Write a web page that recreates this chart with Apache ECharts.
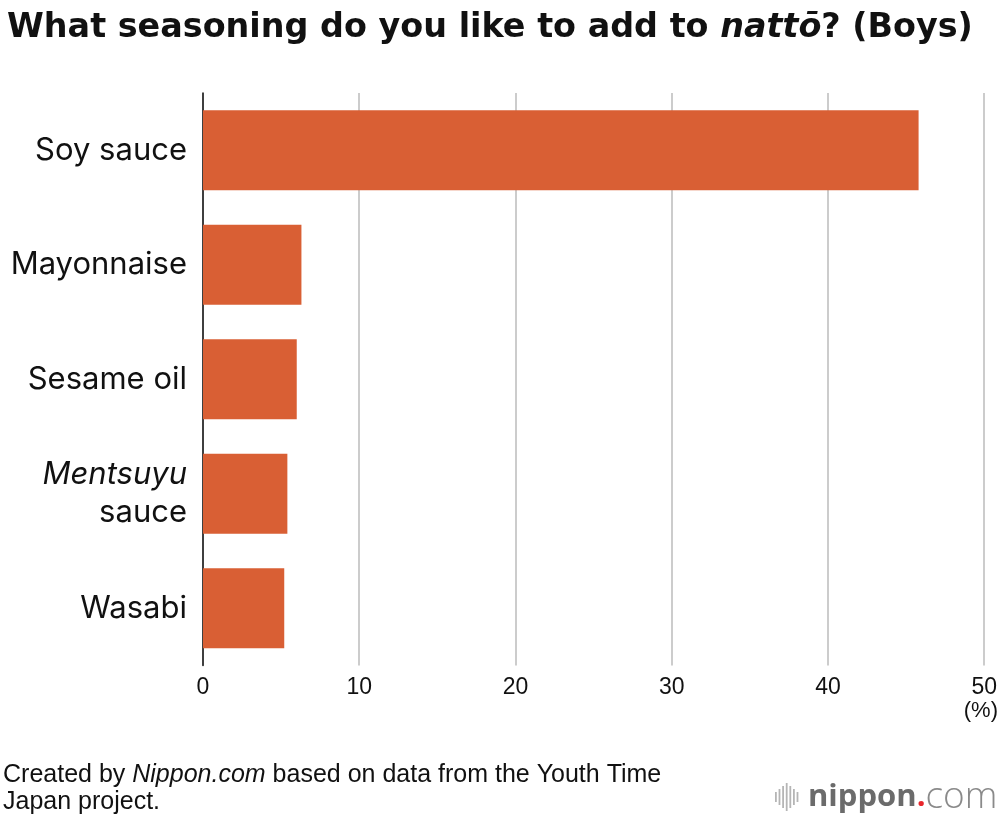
<!DOCTYPE html>
<html>
<head>
<meta charset="utf-8">
<script src="https://cdn.jsdelivr.net/npm/echarts@6/dist/echarts.min.js"></script>
<style>
html,body{margin:0;padding:0;background:#fff;}
#chart{width:1000px;height:820px;}
</style>
</head>
<body>
<div id="chart"></div>
<script>
const categories = ['Soy sauce', 'Mayonnaise', 'Sesame oil', 'Mentsuyu\nsauce', 'Wasabi'];
const values = [45.8, 6.3, 6.0, 5.4, 5.2];
const tickMin = 0, tickMax = 50, tickStep = 10;
const unitLabel = '(%)';
const titleText = 'What seasoning do you like to add to {i|nattō}? (Boys)';
const sourceLines = ['Created by {i|Nippon.com} based on data from the Youth Time', 'Japan project.'];

const chart = echarts.init(document.getElementById('chart'));
const sans = "'Liberation Sans', Arial, Helvetica, sans-serif";
const inter = "Inter, 'Liberation Sans', Arial, sans-serif";
const wide = "'DejaVu Sans', 'Liberation Sans', Arial, sans-serif";
const logoFont = "'Open Sans', sans-serif";

const logoBars = [10, 16, 22, 28, 22, 16, 10];
const logoGraphics = logoBars.map((h, i) => ({
  type: 'rect',
  shape: { x: 775 + i * 3.6, y: 797 - h / 2, width: 1.8, height: h },
  style: { fill: '#b5b5b5' }
}));

chart.setOption({
  animation: false,
  backgroundColor: '#ffffff',
  title: {
    text: titleText,
    left: 2,
    top: 7,
    textStyle: {
      fontFamily: wide,
      fontWeight: 'bold',
      fontSize: 33.4,
      color: '#111',
      rich: { i: { fontFamily: wide, fontWeight: 'bold', fontStyle: 'italic', fontSize: 33.4, color: '#111' } }
    }
  },
  grid: { left: 203, right: 15, top: 93, bottom: 154.5, containLabel: false },
  xAxis: {
    type: 'value',
    min: tickMin,
    max: tickMax,
    interval: tickStep,
    position: 'bottom',
    axisLine: { show: false },
    axisTick: { show: false },
    splitLine: { show: true, lineStyle: { color: '#cccccc', width: 2 } },
    axisLabel: {
      margin: 11,
      fontFamily: sans,
      fontSize: 23,
      color: '#111'
    }
  },
  yAxis: {
    type: 'category',
    data: categories,
    inverse: true,
    axisLine: { show: true, lineStyle: { color: '#111', width: 1.5 } },
    axisTick: { show: false },
    axisLabel: {
      margin: 16,
      fontFamily: inter,
      fontSize: 31,
      color: '#111',
      lineHeight: 38,
      align: 'right',
      formatter: v => v.replace('Mentsuyu', '{i|Mentsuyu}'),
      rich: { i: { fontFamily: inter, fontStyle: 'italic', fontSize: 31, color: '#111', lineHeight: 38, align: 'right' } }
    }
  },
  series: [{
    type: 'bar',
    data: values,
    barCategoryGap: '30%',
    itemStyle: { color: '#d95f34' },
    z: 3
  }],
  graphic: [
    {
      type: 'text',
      right: 2,
      top: 700,
      style: { text: unitLabel, font: "22px " + sans, fill: '#111', textAlign: 'right' }
    },
    {
      type: 'text',
      left: 3,
      top: 762,
      style: {
        text: sourceLines.join('\n'),
        fontFamily: sans,
        fontSize: 25,
        lineHeight: 27,
        fill: '#111',
        rich: { i: { fontFamily: sans, fontStyle: 'italic', fontSize: 25, lineHeight: 27, fill: '#111' } }
      }
    },
    ...logoGraphics,
    {
      type: 'text',
      left: 808,
      top: 779,
      style: {
        text: '{a|nippon}{b|.}{c|com}',
        rich: {
          a: { fontFamily: logoFont, fontWeight: 'bold', fontSize: 31, fill: '#6b6b6b' },
          b: { fontFamily: logoFont, fontWeight: 'bold', fontSize: 31, fill: '#e8262b' },
          c: { fontFamily: logoFont, fontWeight: 300, fontSize: 37, fill: '#8a8a8a' }
        }
      }
    }
  ]
});
</script>
</body>
</html>
